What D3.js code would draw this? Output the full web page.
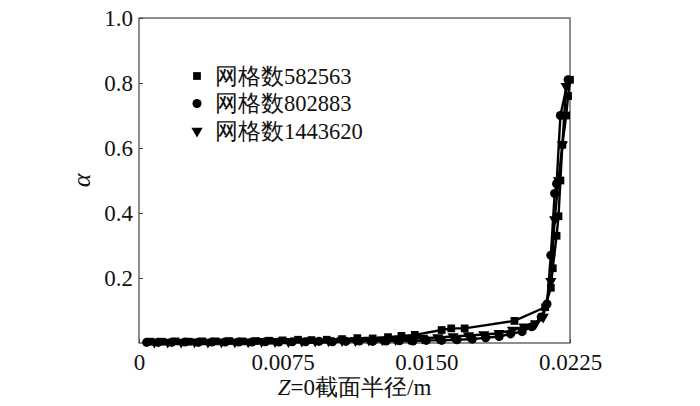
<!DOCTYPE html>
<html>
<head>
<meta charset="utf-8">
<script src="https://cdn.jsdelivr.net/npm/d3@7"></script>
<style>
  body { margin: 0; background: #fff; }
</style>
</head>
<body>
<svg width="700" height="406"></svg>
<script>
// grid 582563 (squares)
const xSq = [0.0006, 0.0012, 0.0019, 0.0026, 0.0033, 0.0040, 0.0047, 0.0054, 0.0061, 0.0068, 0.0075, 0.0083, 0.0090, 0.0098, 0.0106, 0.0114, 0.0122, 0.0130, 0.0137, 0.0144, 0.0158, 0.0163, 0.0170, 0.0196, 0.0212, 0.0215, 0.0216, 0.0218, 0.0219, 0.0220, 0.0221, 0.0223, 0.0224, 0.0225];
const ySq = [0.004, 0.004, 0.005, 0.004, 0.005, 0.005, 0.006, 0.005, 0.006, 0.007, 0.008, 0.010, 0.009, 0.010, 0.012, 0.015, 0.014, 0.018, 0.022, 0.025, 0.040, 0.045, 0.045, 0.068, 0.110, 0.170, 0.230, 0.330, 0.390, 0.500, 0.610, 0.700, 0.760, 0.810];
// grid 802883 (circles)
const xCi = [0.0004, 0.0010, 0.0017, 0.0024, 0.0031, 0.0038, 0.0045, 0.0052, 0.0059, 0.0066, 0.0073, 0.0080, 0.0087, 0.0094, 0.0101, 0.0108, 0.0115, 0.0122, 0.0129, 0.0136, 0.0143, 0.0150, 0.0158, 0.0166, 0.0174, 0.0181, 0.0188, 0.0194, 0.0200, 0.0205, 0.0210, 0.0213, 0.0215, 0.0217, 0.0218, 0.0220, 0.0224];
const yCi = [0.002, 0.002, 0.002, 0.003, 0.002, 0.003, 0.003, 0.003, 0.003, 0.004, 0.003, 0.004, 0.004, 0.005, 0.004, 0.005, 0.006, 0.005, 0.006, 0.007, 0.006, 0.008, 0.008, 0.010, 0.012, 0.016, 0.020, 0.028, 0.035, 0.050, 0.080, 0.120, 0.270, 0.460, 0.490, 0.700, 0.810];
// grid 1443620 (triangles)
const xTr = [0.0008, 0.0015, 0.0022, 0.0029, 0.0036, 0.0043, 0.0050, 0.0057, 0.0064, 0.0071, 0.0078, 0.0085, 0.0092, 0.0099, 0.0106, 0.0113, 0.0120, 0.0127, 0.0134, 0.0141, 0.0148, 0.0156, 0.0164, 0.0172, 0.0180, 0.0188, 0.0195, 0.0201, 0.0207, 0.0211, 0.0215, 0.0217, 0.0219, 0.0221, 0.0223];
const yTr = [0.003, 0.003, 0.003, 0.004, 0.003, 0.004, 0.004, 0.004, 0.005, 0.005, 0.005, 0.006, 0.006, 0.007, 0.008, 0.008, 0.009, 0.010, 0.011, 0.013, 0.015, 0.017, 0.020, 0.023, 0.026, 0.030, 0.040, 0.050, 0.060, 0.080, 0.190, 0.380, 0.500, 0.610, 0.790];

const legendNames = ["网格数582563", "网格数802883", "网格数1443620"];
const xTicks = [0, 0.0075, 0.0150, 0.0225];
const xTickLabels = ["0", "0.0075", "0.0150", "0.0225"];
const yTicks = [0.2, 0.4, 0.6, 0.8, 1.0];
const yTickLabels = ["0.2", "0.4", "0.6", "0.8", "1.0"];

const FONT = '"Liberation Serif"';

const svg = d3.select("svg");
const margin = {top: 18, right: 130, bottom: 63, left: 139},
  width  = 700 - margin.left - margin.right,
  height = 406 - margin.top - margin.bottom;

const scaleX = d3.scaleLinear().domain([0, 0.0225]).range([0, width]);
const scaleY = d3.scaleLinear().domain([0, 1]).range([height, 0]);

const g = svg.append("g")
  .attr("transform", `translate(${margin.left},${margin.top})`);

// frame
g.append("rect")
  .attr("width", width).attr("height", height)
  .attr("fill", "none").attr("stroke", "#444").attr("stroke-width", 1.2);

// axes (inside ticks)
g.append("g")
  .attr("transform", `translate(0,${height})`)
  .call(d3.axisBottom(scaleX).tickValues(xTicks).tickSize(-4).tickPadding(11)
    .tickFormat((d, i) => xTickLabels[i]))
  .call(a => a.select(".domain").remove())
  .call(a => a.selectAll("line").attr("stroke", "#444"))
  .call(a => a.selectAll("text").style("font-family", FONT).style("font-size", "23px").attr("fill", "#111"));

g.append("g")
  .call(d3.axisLeft(scaleY).tickValues(yTicks).tickSize(-4).tickPadding(6)
    .tickFormat((d, i) => yTickLabels[i]))
  .call(a => a.select(".domain").remove())
  .call(a => a.selectAll("line").attr("stroke", "#444"))
  .call(a => a.selectAll("text").style("font-family", FONT).style("font-size", "23px").attr("fill", "#111"));

// series
const series = [
  {x: xSq, y: ySq, shape: d3.symbolSquare, size: 60, rot: 0},
  {x: xCi, y: yCi, shape: d3.symbolCircle, size: 65, rot: 0},
  {x: xTr, y: yTr, shape: d3.symbolTriangle, size: 55, rot: 180}
];

const line = d3.line().x(d => scaleX(d[0])).y(d => scaleY(d[1]));

series.forEach(s => {
  const pts = s.x.map((v, i) => [v, s.y[i]]);
  g.append("path")
    .attr("d", line(pts))
    .attr("fill", "none").attr("stroke", "#000").attr("stroke-width", 2.4);
  g.selectAll(null).data(pts).enter().append("path")
    .attr("d", d3.symbol().type(s.shape).size(s.size))
    .attr("transform", d => `translate(${scaleX(d[0])},${scaleY(d[1])}) rotate(${s.rot})`)
    .attr("fill", "#000");
});

// legend
const legend = g.append("g").attr("transform", "translate(58,58)");
series.forEach((s, i) => {
  legend.append("path")
    .attr("d", d3.symbol().type(s.shape).size(s.size))
    .attr("transform", `translate(0,${i * 27.5}) rotate(${s.rot})`)
    .attr("fill", "#000");
  legend.append("text")
    .attr("x", 18).attr("y", i * 27.5).attr("dy", "0.35em")
    .style("font-family", FONT).style("font-size", "22.5px").attr("fill", "#111")
    .text(legendNames[i]);
});

// axis labels
const xl = svg.append("text")
  .attr("x", margin.left + width / 2).attr("y", 395)
  .attr("text-anchor", "middle")
  .style("font-family", FONT).style("font-size", "23px").attr("fill", "#111");
xl.append("tspan").style("font-style", "italic").text("Z");
xl.append("tspan").text("=0截面半径/m");

svg.append("text")
  .attr("transform", `translate(90,${margin.top + height / 2}) rotate(-90)`)
  .attr("text-anchor", "middle")
  .style("font-family", FONT).style("font-size", "26px").style("font-style", "italic")
  .attr("fill", "#111")
  .text("α");
</script>
</body>
</html>
